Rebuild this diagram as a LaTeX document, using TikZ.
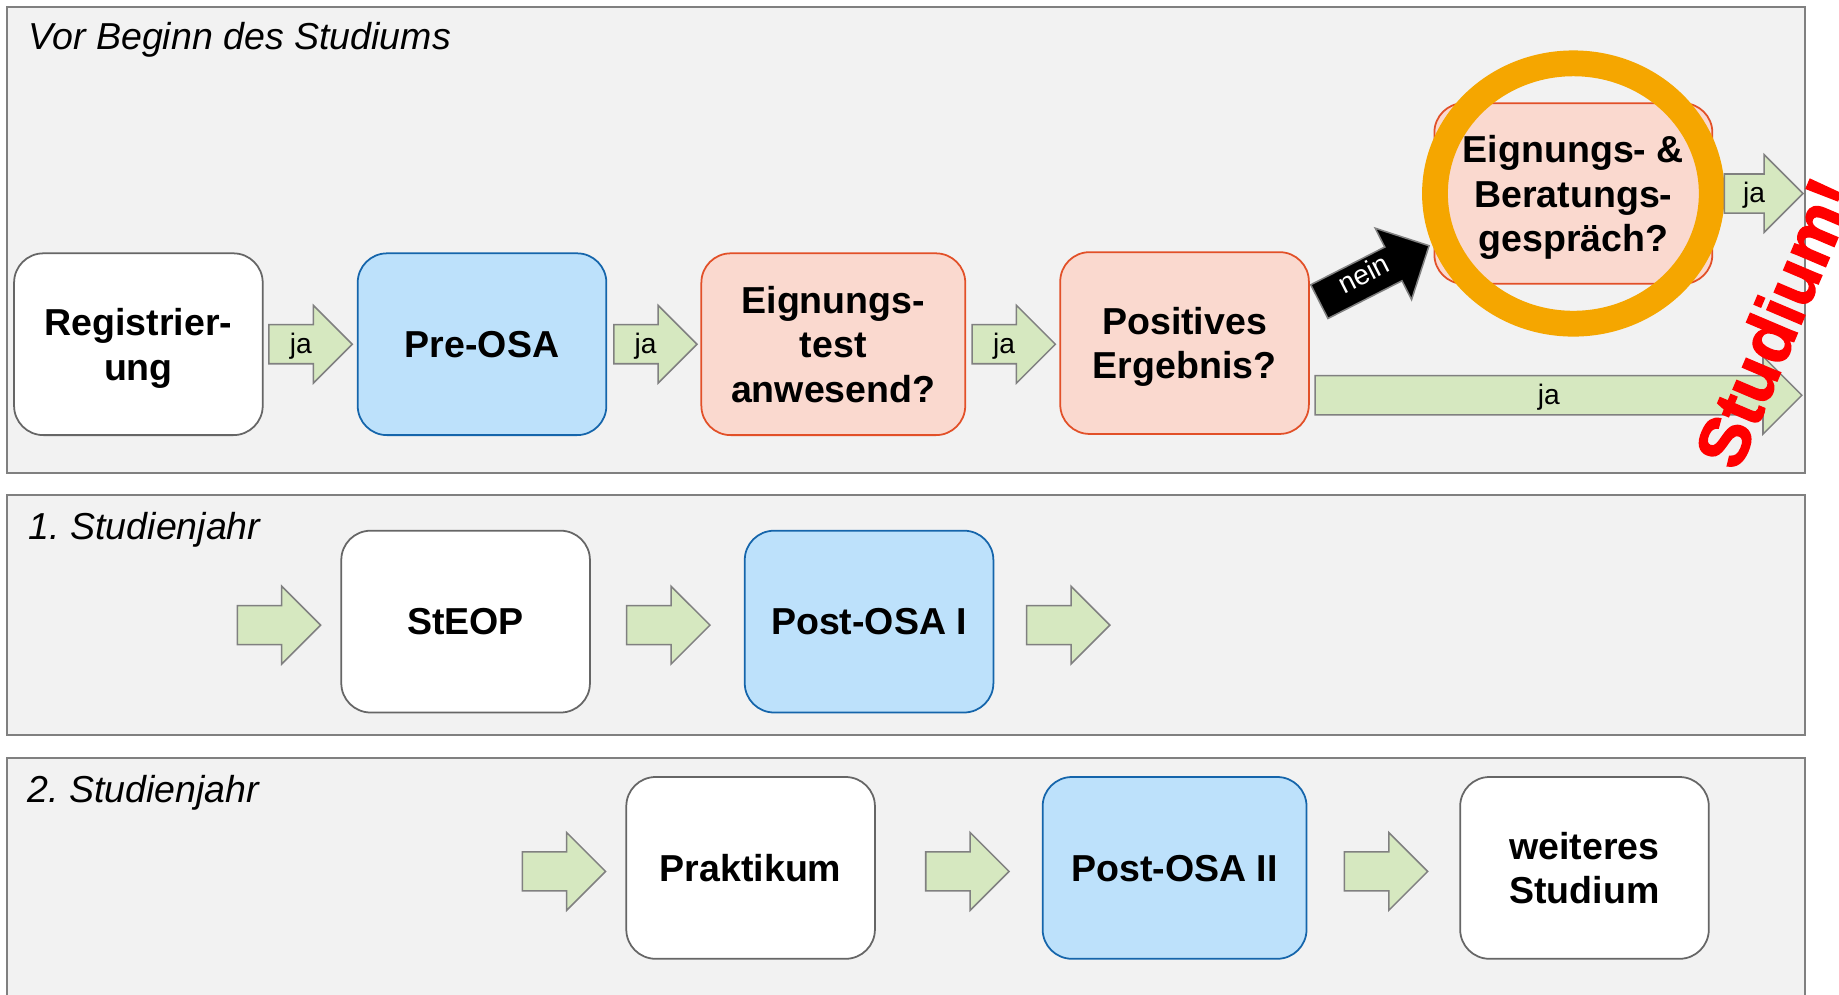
\documentclass[tikz,border=0pt]{standalone}
\usepackage{fontspec}
\setmainfont{Liberation Sans}
\newfontfamily\heavyfont{Liberation Sans}[BoldFeatures={FakeBold=2}]
\usetikzlibrary{shapes.arrows,calc}

\definecolor{panelgray}{RGB}{242,242,242}
\definecolor{framegray}{RGB}{128,128,128}
\definecolor{osablue}{RGB}{189,225,251}
\definecolor{osaborder}{RGB}{21,101,171}
\definecolor{testpink}{RGB}{250,217,207}
\definecolor{testborder}{RGB}{226,80,40}
\definecolor{arrowgreen}{RGB}{214,232,192}
\definecolor{ringorange}{RGB}{245,166,0}

\tikzset{
  panel/.style={draw=framegray, fill=panelgray, line width=1.5pt},
  phase/.style={anchor=west, font=\fontsize{32}{36}\selectfont\itshape\frenchspacing},
  stepbox/.style={draw=black!60, fill=white, line width=1.5pt, rounded corners=25pt,
    minimum width=212pt, minimum height=155pt, align=center, inner sep=0pt,
    text depth=0pt, font=\fontsize{32}{38}\selectfont\bfseries},
  osabox/.style={stepbox, draw=osaborder, fill=osablue},
  testbox/.style={stepbox, draw=testborder, fill=testpink},
  go/.style={single arrow, draw=framegray, fill=arrowgreen, line width=1.3pt,
    minimum width=65pt, minimum height=71pt, single arrow head extend=16.5pt,
    single arrow tip angle=90, inner xsep=0pt, inner ysep=16pt,
    text height=0pt, text depth=0pt,
    label={[font=\fontsize{24}{24}\selectfont, yshift=-1.5pt]center:#1}},
  go/.default={},
}

\begin{document}
\begin{tikzpicture}[x=1pt, y=-1pt]
  \useasboundingbox (0,0) rectangle (1568,848);

  % the three phases
  \draw[panel] (6,6) rectangle (1539,403);
  \draw[panel] (6,422) rectangle (1539,627);
  \draw[panel] (6,646) rectangle (1539,870);
  \node[phase] (ph1) at (21,34) {Vor Beginn des Studiums};
  \node[phase] (ph2) at (21,452) {1. Studienjahr};
  \node[phase] (ph3) at (20,676) {2. Studienjahr};

  % before the studies
  \node[stepbox] (reg) at (118,293.5) {Registrier-\\ung};
  \node[osabox] (pre) at (411,293.5) {Pre-OSA};
  \node[testbox, minimum width=225pt] (test) at (710.5,293.5) {Eignungs-\\test\\anwesend?};
  \node[testbox] (pos) at (1010,292.5) {Positives\\Ergebnis?};
  \node[testbox, minimum width=237pt, minimum height=154pt] (talk) at (1341.5,165)
    {Eignungs- \&\\Beratungs-\\gespräch?};
  \draw[ringorange, line width=22pt] (talk.center) ellipse [x radius=118, y radius=111];

  \node[go=ja] (g1) at (256.5,293.5) {};
  \node[go=ja] (g2) at (550.5,293.5) {};
  \node[go=ja] (g3) at (856,293.5) {};
  \node[go=ja, minimum height=67pt] (g4) at (1495.5,165) {};
  \node[go=ja, minimum height=415pt] (g5) at (1320.5,337) {};
  \node[single arrow, draw=framegray, fill=black, line width=1.3pt, text=white,
    minimum width=67pt, minimum height=105pt, single arrow head extend=18pt,
    single arrow tip angle=90, inner xsep=2pt, inner ysep=8pt,
    text height=12pt, text depth=3pt, rotate=27,
    font=\fontsize{24}{24}\selectfont] (no) at (1164.5,237) {nein};

  \node[text=red, font=\fontsize{60}{60}\selectfont\heavyfont\bfseries, rotate=67]
    (go) at (1513,275) {Studium!};

  % first year
  \node[stepbox] (steop) at (397,530) {StEOP};
  \node[osabox] (posta) at (741,530) {Post-OSA I};
  \node[go] (h1) at (229.5,533) {};
  \node[go] (h2) at (561.5,533) {};
  \node[go] (h3) at (902.5,533) {};

  % second year
  \node[stepbox] (prak) at (640,740) {Praktikum};
  \node[osabox, minimum width=225pt] (postb) at (1001.5,740) {Post-OSA II};
  \node[stepbox] (more) at (1351,740) {weiteres\\Studium};
  \node[go] (k1) at (472.5,743) {};
  \node[go] (k2) at (816.5,743) {};
  \node[go] (k3) at (1173.5,743) {};
\end{tikzpicture}
\end{document}
